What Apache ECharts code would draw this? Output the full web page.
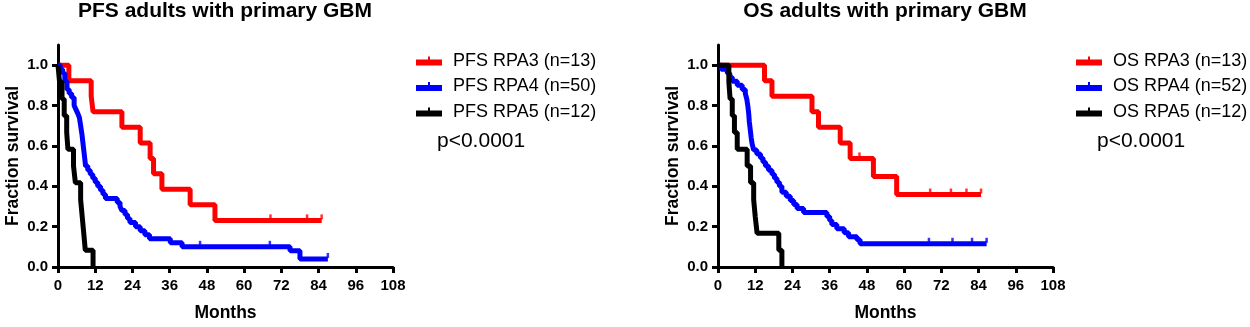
<!DOCTYPE html>
<html>
<head>
<meta charset="utf-8">
<script src="https://cdn.jsdelivr.net/npm/echarts@6/dist/echarts.min.js"></script>
<style>
  html, body {margin: 0; padding: 0; background: #fff;}
  #chart {width: 1250px; height: 327px;}
</style>
</head>
<body>
<div id="chart"></div>
<script>
// axis ticks
const monthTicks = [0, 12, 24, 36, 48, 60, 72, 84, 96, 108];
const fractionTicks = [0, 0.2, 0.4, 0.6, 0.8, 1.0];

// PFS curves (month of each step, survival after the step)
const pfsRpa3Months = [0, 3.5, 10.7, 11.3, 20.6, 26.5, 29.7, 30.8, 33.5, 42.6, 50.6, 85];
const pfsRpa3Surv = [1, 0.923, 0.846, 0.769, 0.692, 0.615, 0.538, 0.462, 0.385, 0.308, 0.231, 0.231];
const pfsRpa3Censored = [68.5, 80.3, 85];

const pfsRpa4Months = [0, 0.8, 1.5, 2.2, 2.9, 3.6, 4.4, 5.2, 5.8, 6.4, 6.9, 7.3, 7.7, 8.0, 8.3, 8.6, 8.9, 9.6, 10.4, 11.2,
  12.0, 12.8, 13.7, 14.5, 15.3, 19.1, 20.0, 20.6, 21.6, 22.4, 23.2, 25.0, 26.5, 28.0, 29.5, 36.2, 40.0, 74.8, 78.0, 87];
const pfsRpa4Surv = [1, 0.98, 0.96, 0.92, 0.88, 0.86, 0.84, 0.80, 0.78, 0.76, 0.74, 0.70, 0.66, 0.62, 0.58, 0.54, 0.50, 0.48, 0.46, 0.44,
  0.42, 0.40, 0.38, 0.36, 0.34, 0.32, 0.30, 0.28, 0.26, 0.24, 0.22, 0.20, 0.18, 0.16, 0.14, 0.12, 0.10, 0.08, 0.04, 0.04];
const pfsRpa4Censored = [45.8, 68.3, 87];

const pfsRpa5Months = [0, 0.5, 1.3, 2.0, 2.8, 3.2, 5.0, 5.6, 7.3, 7.8, 8.3, 8.8, 11.3];
const pfsRpa5Surv = [1, 0.917, 0.833, 0.75, 0.667, 0.583, 0.5, 0.417, 0.333, 0.25, 0.167, 0.083, 0];

// OS curves
const osRpa3Months = [0, 15.0, 17.4, 30.3, 32.4, 39.4, 42.6, 50.1, 57.6, 84.8];
const osRpa3Surv = [1, 0.923, 0.846, 0.769, 0.692, 0.615, 0.538, 0.449, 0.359, 0.359];
const osRpa3Censored = [45.6, 68.4, 75.1, 80.1, 84.8];

const osRpa4Months = [0, 1.0, 3.0, 3.8, 4.6, 6.2, 7.8, 8.8, 9.3, 9.6, 9.9, 10.1, 10.4, 10.7, 11.0, 11.5, 12.5, 13.7, 14.5, 15.3,
  16.3, 17.4, 18.2, 19.0, 19.8, 20.6, 22.0, 23.3, 24.4, 25.5, 27.6, 35.1, 36.0, 36.7, 38.3, 40.7, 42.1, 44.8, 45.8, 86.6];
const osRpa4Surv = [1, 0.98, 0.96, 0.94, 0.92, 0.90, 0.88, 0.86, 0.83, 0.80, 0.76, 0.72, 0.68, 0.64, 0.61, 0.58, 0.56, 0.54, 0.52, 0.50,
  0.48, 0.46, 0.44, 0.42, 0.40, 0.37, 0.35, 0.33, 0.31, 0.29, 0.27, 0.25, 0.23, 0.21, 0.19, 0.17, 0.15, 0.135, 0.115, 0.115];
const osRpa4Censored = [68.0, 75.6, 81.9, 86.6];

const osRpa5Months = [0, 3.5, 3.9, 4.6, 5.3, 6.2, 9.4, 10.5, 11.5, 12.0, 12.6, 19.6, 20.6];
const osRpa5Surv = [1, 0.917, 0.833, 0.75, 0.667, 0.583, 0.5, 0.417, 0.333, 0.25, 0.167, 0.083, 0];

const FONT = 'Liberation Sans, Arial, sans-serif';
const legendIcon = 'path://M0,3L26,3L26,9L0,9Z M12,0L14,0L14,3L12,3Z';

function pairs(months, surv) {
  return months.map((m, i) => [m, surv[i]]);
}

// survival value of a step curve at a given month, used to sit the censor marks on the line
function survAt(months, surv, t) {
  let v = surv[0];
  for (let i = 0; i < months.length; i++) {
    if (months[i] <= t) v = surv[i];
  }
  return v;
}

function kmLine(name, color, idx, months, surv) {
  return {
    name: name,
    type: 'line',
    step: 'end',
    xAxisIndex: idx,
    yAxisIndex: idx,
    showSymbol: false,
    symbol: 'none',
    color: color,
    lineStyle: {width: 5, color: color},
    data: pairs(months, surv),
    animation: false
  };
}

function censorMarks(name, color, idx, months, surv, censored) {
  return {
    name: name + ' censored',
    type: 'scatter',
    xAxisIndex: idx,
    yAxisIndex: idx,
    symbol: 'rect',
    symbolSize: [2.5, 5],
    symbolOffset: [0, -3.5],
    itemStyle: {color: color},
    data: censored.map(t => [t, survAt(months, surv, t)]),
    animation: false
  };
}

function makeXAxis(idx) {
  return {
    type: 'value',
    gridIndex: idx,
    min: 0,
    max: 108,
    interval: 12,
    name: 'Months',
    nameLocation: 'middle',
    nameGap: 37,
    nameTextStyle: {fontFamily: FONT, fontWeight: 'bold', fontSize: 17.5, color: '#000'},
    axisLine: {show: true, lineStyle: {color: '#000', width: 3}},
    axisTick: {show: true, length: 6, lineStyle: {color: '#000', width: 3}, customValues: monthTicks},
    axisLabel: {fontFamily: FONT, fontWeight: 'bold', fontSize: 15, color: '#000', margin: 11, customValues: monthTicks},
    splitLine: {show: false}
  };
}

function makeYAxis(idx) {
  return {
    type: 'value',
    gridIndex: idx,
    min: 0,
    max: 1.1,
    name: 'Fraction survival',
    nameLocation: 'middle',
    nameRotate: 90,
    nameGap: 36,
    nameTextStyle: {fontFamily: FONT, fontWeight: 'bold', fontSize: 17.5, color: '#000'},
    axisLine: {show: true, lineStyle: {color: '#000', width: 3}},
    axisTick: {show: true, length: 6, lineStyle: {color: '#000', width: 3}, customValues: fractionTicks},
    axisLabel: {
      fontFamily: FONT, fontWeight: 'bold', fontSize: 15, color: '#000', margin: 10,
      customValues: fractionTicks,
      formatter: v => v.toFixed(1)
    },
    splitLine: {show: false}
  };
}

function makeLegend(left, names) {
  return {
    orient: 'vertical',
    left: left,
    top: 51,
    padding: 0,
    itemGap: 5.5,
    itemWidth: 26,
    itemHeight: 9,
    selectedMode: false,
    textStyle: {fontFamily: FONT, fontSize: 18, color: '#000', lineHeight: 20, padding: [0, 0, 0, 6]},
    data: names.map(n => ({name: n, icon: legendIcon}))
  };
}

const RED = '#ff0000', BLUE = '#0000ff', BLACK = '#000000';

const chart = echarts.init(document.getElementById('chart'), null, {renderer: 'canvas'});
chart.setOption({
  backgroundColor: '#fff',
  animation: false,
  title: [
    {text: 'PFS adults with primary GBM', left: 225, top: 1, padding: 0, textAlign: 'center',
      textStyle: {fontFamily: FONT, fontWeight: 'bold', fontSize: 21, color: '#000'}},
    {text: 'OS adults with primary GBM', left: 885, top: 1, padding: 0, textAlign: 'center',
      textStyle: {fontFamily: FONT, fontWeight: 'bold', fontSize: 21, color: '#000'}}
  ],
  grid: [
    {left: 58, top: 45, width: 335, height: 225},
    {left: 718, top: 45, width: 335, height: 225}
  ],
  xAxis: [makeXAxis(0), makeXAxis(1)],
  yAxis: [makeYAxis(0), makeYAxis(1)],
  legend: [
    makeLegend(416, ['PFS RPA3 (n=13)', 'PFS RPA4 (n=50)', 'PFS RPA5 (n=12)']),
    makeLegend(1076, ['OS RPA3 (n=13)', 'OS RPA4 (n=52)', 'OS RPA5 (n=12)'])
  ],
  graphic: [
    {type: 'text', left: 437, top: 131, style: {text: 'p<0.0001', font: '21px ' + FONT, fill: '#000'}},
    {type: 'text', left: 1097, top: 131, style: {text: 'p<0.0001', font: '21px ' + FONT, fill: '#000'}}
  ],
  series: [
    kmLine('PFS RPA3 (n=13)', RED, 0, pfsRpa3Months, pfsRpa3Surv),
    kmLine('PFS RPA4 (n=50)', BLUE, 0, pfsRpa4Months, pfsRpa4Surv),
    kmLine('PFS RPA5 (n=12)', BLACK, 0, pfsRpa5Months, pfsRpa5Surv),
    censorMarks('PFS RPA3', RED, 0, pfsRpa3Months, pfsRpa3Surv, pfsRpa3Censored),
    censorMarks('PFS RPA4', BLUE, 0, pfsRpa4Months, pfsRpa4Surv, pfsRpa4Censored),
    kmLine('OS RPA3 (n=13)', RED, 1, osRpa3Months, osRpa3Surv),
    kmLine('OS RPA4 (n=52)', BLUE, 1, osRpa4Months, osRpa4Surv),
    kmLine('OS RPA5 (n=12)', BLACK, 1, osRpa5Months, osRpa5Surv),
    censorMarks('OS RPA3', RED, 1, osRpa3Months, osRpa3Surv, osRpa3Censored),
    censorMarks('OS RPA4', BLUE, 1, osRpa4Months, osRpa4Surv, osRpa4Censored)
  ]
});
</script>
</body>
</html>
